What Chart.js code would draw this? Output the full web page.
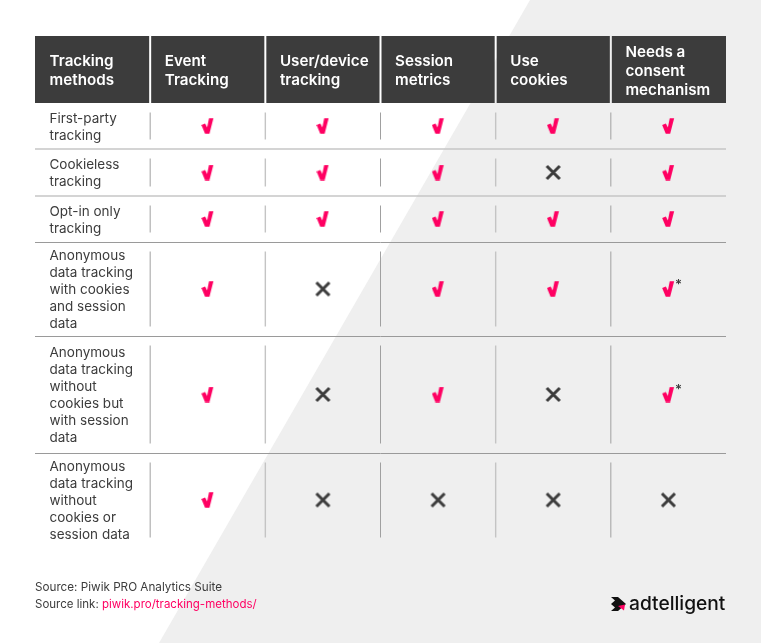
<!DOCTYPE html>
<html>
<head>
<meta charset="utf-8">
<title>Tracking methods</title>
<script src="https://cdn.jsdelivr.net/npm/chart.js@4/dist/chart.umd.js"></script>
<style>
    html, body { margin: 0; padding: 0; background: #fff; }
    canvas { display: block; }
</style>
</head>
<body>
<canvas id="trackingTable" width="761" height="643"></canvas>
<script>
const headers = [
    ['Tracking', 'methods'],
    ['Event', 'Tracking'],
    ['User/device', 'tracking'],
    ['Session', 'metrics'],
    ['Use', 'cookies'],
    ['Needs a', 'consent', 'mechanism']
];
const methods = [
    ['First-party', 'tracking'],
    ['Cookieless', 'tracking'],
    ['Opt-in only', 'tracking'],
    ['Anonymous', 'data tracking', 'with cookies', 'and session', 'data'],
    ['Anonymous', 'data tracking', 'without', 'cookies but', 'with session', 'data'],
    ['Anonymous', 'data tracking', 'without', 'cookies or', 'session data']
];
// row heights, the table is not evenly spaced
const rowHeights = [46, 47, 46, 94, 117, 94];

// one array per column, 'yes' / 'no' / 'yes*'
const eventTracking = ['yes', 'yes', 'yes', 'yes', 'yes', 'yes'];
const userDevice = ['yes', 'yes', 'yes', 'no', 'no', 'no'];
const sessionMetrics = ['yes', 'yes', 'yes', 'yes', 'yes', 'no'];
const useCookies = ['yes', 'no', 'yes', 'yes', 'no', 'no'];
const consent = ['yes', 'yes', 'yes', 'yes*', 'yes*', 'no'];
const columns = [eventTracking, userDevice, sessionMetrics, useCookies, consent];

const sourceText = 'Source: Piwik PRO Analytics Suite';
const linkLabel = 'Source link: ';
const linkText = 'piwik.pro/tracking-methods/';
const logoText = 'adtelligent';

const DARK = '#3c3c3c';
const PINK = '#ff0062';
const FONT = 'Inter, "Noto Sans", sans-serif';

const rowEdges = [0];
rowHeights.forEach(h => rowEdges.push(rowEdges[rowEdges.length - 1] + h));
const rowCentres = rowHeights.map((h, i) => rowEdges[i] + h / 2);

const pointsFor = (status) => {
    const points = [];
    columns.forEach((col, c) => {
        col.forEach((val, r) => {
            // the category scale finds the column by its label
            if (val === status) points.push({x: headers[c + 1], y: rowCentres[r]});
        });
    });
    return points;
};

const makeCheck = () => {
    const cv = document.createElement('canvas');
    cv.width = 13;
    cv.height = 16;
    const g = cv.getContext('2d');
    g.fillStyle = PINK;
    g.beginPath();
    g.moveTo(0.2, 7);
    g.lineTo(3.9, 5.6);
    g.lineTo(5.9, 9.6);
    g.lineTo(7.8, 0.2);
    g.lineTo(12.2, 0.2);
    g.lineTo(8.2, 15.8);
    g.lineTo(3.8, 15.8);
    g.closePath();
    g.fill();
    return cv;
};

const makeCross = () => {
    const cv = document.createElement('canvas');
    cv.width = 17;
    cv.height = 17;
    const g = cv.getContext('2d');
    g.strokeStyle = DARK;
    g.lineWidth = 3;
    g.beginPath();
    g.moveTo(2, 2);
    g.lineTo(15, 15);
    g.moveTo(15, 2);
    g.lineTo(2, 15);
    g.stroke();
    return cv;
};

// background wedge, header cells and separators
const tableBack = {
    id: 'tableBack',
    beforeDraw(chart) {
        const {ctx, scales: {x, y}, chartArea: area} = chart;
        ctx.save();
        ctx.fillStyle = '#fff';
        ctx.fillRect(0, 0, chart.width, chart.height);
        ctx.fillStyle = '#efefef';
        ctx.beginPath();
        ctx.moveTo(530, 0);
        ctx.lineTo(chart.width, 0);
        ctx.lineTo(chart.width, chart.height);
        ctx.lineTo(159, chart.height);
        ctx.closePath();
        ctx.fill();

        const band = area.width / headers.length;
        ctx.fillStyle = DARK;
        headers.forEach((h, i) => {
            const left = area.left + band * i + (i ? 1 : 0);
            ctx.fillRect(left, x.top, band - (i ? 1 : 0) - (i < headers.length - 1 ? 1 : 0), x.height);
        });

        // lines between the rows
        rowEdges.slice(1, -1).forEach((edge, i) => {
            const py = y.getPixelForValue(edge);
            ctx.strokeStyle = i < 2 ? '#c6c6c6' : '#9a9a9a';
            ctx.lineWidth = i < 2 ? 1.6 : 1;
            ctx.beginPath();
            ctx.moveTo(area.left, i < 2 ? py : py + 0.5);
            ctx.lineTo(area.right, i < 2 ? py : py + 0.5);
            ctx.stroke();
        });

        // short column separators inside every row
        rowHeights.forEach((h, r) => {
            const top = y.getPixelForValue(rowEdges[r]) + 9.5;
            const bottom = y.getPixelForValue(rowEdges[r + 1]) - 9.5;
            for (let c = 1; c < headers.length; c++) {
                const px = area.left + band * c;
                ctx.strokeStyle = c % 2 ? '#a0a0a0' : '#c4c4c4';
                ctx.lineWidth = c % 2 ? 1 : 1.4;
                ctx.beginPath();
                ctx.moveTo(px, top);
                ctx.lineTo(px, bottom);
                ctx.stroke();
            }
        });
        ctx.restore();
    }
};

// asterisks, source note and logo
const tableFront = {
    id: 'tableFront',
    afterDraw(chart) {
        const {ctx} = chart;
        ctx.save();
        ctx.textBaseline = 'middle';

        ctx.fillStyle = DARK;
        ctx.font = '600 13px ' + FONT;
        chart.getDatasetMeta(1).data.forEach(pt => {
            ctx.fillText('*', pt.x + 6.5, pt.y - 4);
        });

        ctx.font = '400 11.7px ' + FONT;
        ctx.fillStyle = DARK;
        ctx.fillText(sourceText, 35, 587);
        ctx.font = '400 11.5px ' + FONT;
        ctx.fillText(linkLabel, 35, 605);
        const linkX = 35 + ctx.measureText(linkLabel).width;
        ctx.fillStyle = PINK;
        ctx.fillText(linkText, linkX, 605);

        // logo mark
        ctx.fillStyle = '#111';
        ctx.beginPath();
        ctx.moveTo(611, 597);
        ctx.lineTo(618, 597);
        ctx.lineTo(626, 604);
        ctx.lineTo(618, 611);
        ctx.lineTo(611, 611);
        ctx.lineTo(615, 607.5);
        ctx.lineTo(611, 604);
        ctx.lineTo(615, 600.5);
        ctx.closePath();
        ctx.fill();
        ctx.fillStyle = PINK;
        ctx.beginPath();
        ctx.moveTo(618, 606);
        ctx.lineTo(625, 604.5);
        ctx.lineTo(624, 610.5);
        ctx.closePath();
        ctx.fill();

        ctx.fillStyle = '#111';
        ctx.font = '500 19.2px ' + FONT;
        ctx.fillText(logoText, 629, 604);
        ctx.restore();
    }
};

new Chart(document.getElementById('trackingTable').getContext('2d'), {
    type: 'scatter',
    plugins: [tableBack, tableFront],
    data: {
        labels: headers,
        datasets: [
            {label: 'yes', data: pointsFor('yes'), pointStyle: makeCheck(), pointRadius: 8},
            {label: 'yes*', data: pointsFor('yes*'), pointStyle: makeCheck(), pointRadius: 8},
            {label: 'no', data: pointsFor('no'), pointStyle: makeCross(), pointRadius: 8}
        ]
    },
    options: {
        responsive: false,
        animation: false,
        layout: {padding: {left: 35, right: 35, top: 36, bottom: 96}},
        plugins: {legend: {display: false}, tooltip: {enabled: false}},
        scales: {
            x: {
                type: 'category',
                position: 'top',
                offset: true,
                grid: {display: false, drawTicks: false},
                border: {display: false},
                // keep the header height fixed and stop the labels eating into the table width
                afterFit: (s) => {
                    s.height = 67;
                    s.paddingLeft = 0;
                    s.paddingRight = 0;
                },
                ticks: {
                    color: '#fff',
                    align: 'start',
                    crossAlign: 'center',
                    labelOffset: -43,
                    padding: 13,
                    maxRotation: 0,
                    autoSkip: false,
                    font: {family: FONT, size: 15.2, weight: '600', lineHeight: 1.25}
                }
            },
            y: {
                type: 'linear',
                reverse: true,
                min: 0,
                max: rowEdges[rowEdges.length - 1],
                grid: {display: false, drawTicks: false},
                border: {display: false},
                afterFit: (s) => { s.width = 0; },
                // text sits a touch under the row centre
                afterBuildTicks: (s) => { s.ticks = rowCentres.map(v => ({value: v + 1})); },
                ticks: {
                    mirror: true,
                    padding: 14.5,
                    autoSkip: false,
                    color: DARK,
                    font: {family: FONT, size: 13.5, weight: '400', lineHeight: 1.26},
                    callback: (val, i) => methods[i]
                }
            }
        }
    }
});
</script>
</body>
</html>
